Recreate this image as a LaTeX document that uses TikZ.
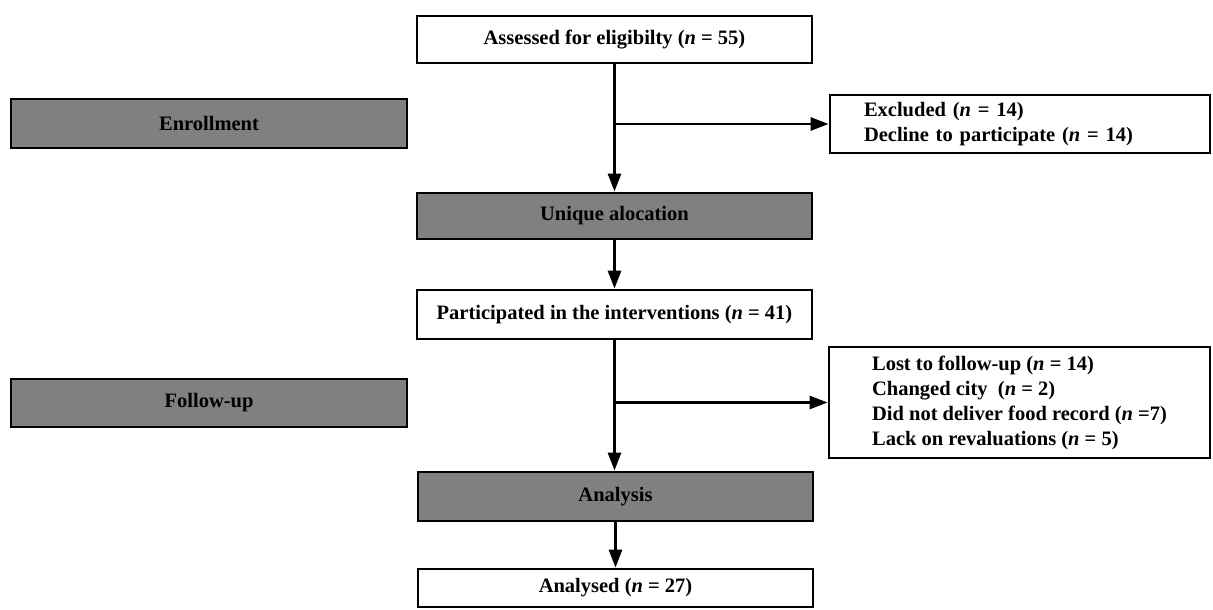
\documentclass[tikz,border=0pt]{standalone}
\usepackage{fontspec}
\setmainfont{Liberation Serif}
\usetikzlibrary{arrows.meta}
\begin{document}
\begin{tikzpicture}[x=1pt,y=-1pt,
  box/.style={draw=black, line width=2.8pt, fill=white, minimum height=#1, inner sep=0pt,
    font=\fontsize{20.5}{25}\selectfont\bfseries, align=center},
  wbox/.style={box=#1, minimum width=395pt},
  gbox/.style={box=#1, minimum width=395pt, fill=gray},
  lbox/.style={box=#1, align=left},
  arr/.style={line width=2.8pt, -{Triangle[length=18pt,width=13pt]}}]
\useasboundingbox (0,0) rectangle (1213,610);
\node[wbox=47pt] (assess) at (614.5,39.5) {Assessed for eligibilty (\textit{n} = 55)};
\node[gbox=49pt, minimum width=396pt] (enroll) at (209,123.5) {Enrollment};
\node[lbox=58pt, minimum width=380pt, text width=312pt, inner xsep=34pt] (excl) at (1020,124)
  {Excluded (\textit{n} = 14)\\Decline to participate (\textit{n} = 14)};
\node[gbox=46pt] (unique) at (614.5,216) {Unique alocation};
\node[wbox=49pt] (part) at (614.5,314.5) {Participated in the interventions (\textit{n} = 41)};
\node[gbox=48pt, minimum width=396pt] (follow) at (209,403) {Follow-up};
\node[lbox=111pt, minimum width=381pt] (lost) at (1019.5,402.5)
  {Lost to follow-up (\textit{n} = 14)\\Changed city\ \ (\textit{n} = 2)\\Did not deliver food record (\textit{n} =7)\\Lack on revaluations (\textit{n} = 5)};
\node[gbox=49pt] (analysis) at (615.5,496.5) {Analysis};
\node[wbox=38pt] (analysed) at (615.5,588) {Analysed (\textit{n} = 27)};
\coordinate (b1) at (614.5,124);
\coordinate (b2) at (614.5,402.5);
\draw[arr] (assess.south) -- (unique.north);
\draw[arr] (b1) -- (excl.west);
\draw[arr] (unique.south) -- (part.north);
\draw[arr] (part.south) -- (part.south |- analysis.north);
\draw[arr] (b2) -- (lost.west);
\draw[arr] (analysis.south) -- (analysed.north);
\end{tikzpicture}
\end{document}
